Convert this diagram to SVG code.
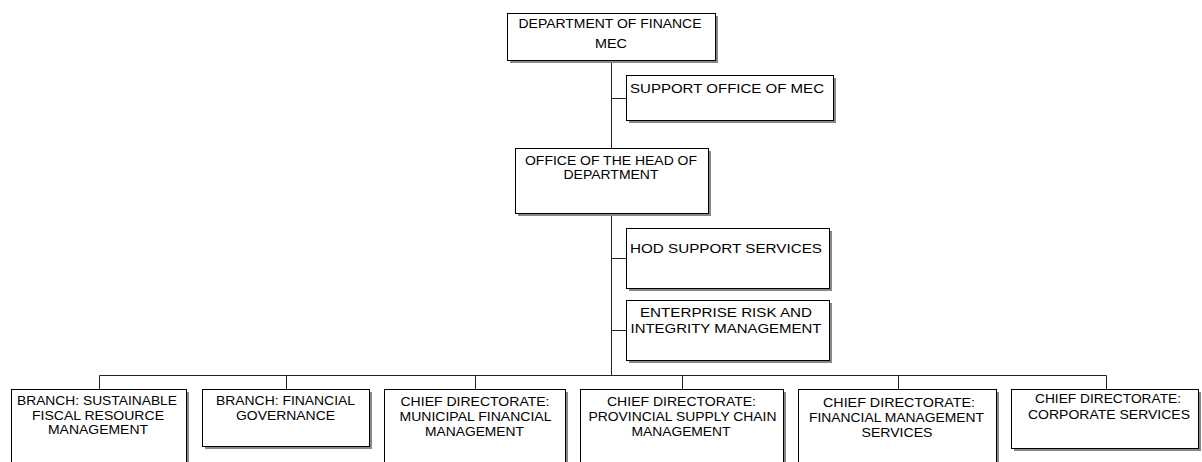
<svg xmlns="http://www.w3.org/2000/svg" width="1202" height="462" viewBox="0 0 1202 462">
<style>
.box{fill:#fff;stroke:#000;stroke-width:1}
.sh{fill:#888}
.c{stroke:#222;stroke-width:1;fill:none}
text{font-family:"Liberation Sans",Arial,sans-serif;font-size:13px;fill:#000;text-anchor:middle}
</style>
<rect width="1202" height="462" fill="#fff"/>
<g id="connectors">
<path class="c" d="M611.5 61V375.5M611.5 98.5H626.5M611.5 258.5H626.5M611.5 330.5H626.5M99.5 375.5H1106.5M99.5 375.5V389.5M286.5 375.5V389.5M475.5 375.5V389.5M682.5 375.5V389.5M898.5 375.5V389.5M1106.5 375.5V389.5"/>
</g>
<g id="n-mec">
<rect class="sh" x="510" y="16" width="208" height="47"/>
<rect class="box" x="507.5" y="13.5" width="208" height="47"/>
<text x="610" y="28" textLength="183" lengthAdjust="spacingAndGlyphs">DEPARTMENT OF FINANCE</text>
<text x="611" y="48" textLength="32" lengthAdjust="spacingAndGlyphs">MEC</text>
</g>
<g id="n-support">
<rect class="sh" x="629" y="78" width="207" height="45"/>
<rect class="box" x="626.5" y="75.5" width="207" height="45"/>
<text x="727" y="93" textLength="194" lengthAdjust="spacingAndGlyphs">SUPPORT OFFICE OF MEC</text>
</g>
<g id="n-hod-office">
<rect class="sh" x="518" y="151" width="193" height="65"/>
<rect class="box" x="515.5" y="148.5" width="193" height="65"/>
<text x="611" y="164.5" textLength="172" lengthAdjust="spacingAndGlyphs">OFFICE OF THE HEAD OF</text>
<text x="611" y="179" textLength="95" lengthAdjust="spacingAndGlyphs">DEPARTMENT</text>
</g>
<g id="n-hod-support">
<rect class="sh" x="629" y="231" width="203" height="60"/>
<rect class="box" x="626.5" y="228.5" width="203" height="60"/>
<text x="726" y="252.5" textLength="192" lengthAdjust="spacingAndGlyphs">HOD SUPPORT SERVICES</text>
</g>
<g id="n-risk">
<rect class="sh" x="629" y="303" width="203" height="60"/>
<rect class="box" x="626.5" y="300.5" width="203" height="60"/>
<text x="726" y="316.5" textLength="172" lengthAdjust="spacingAndGlyphs">ENTERPRISE RISK AND</text>
<text x="726" y="332.5" textLength="191" lengthAdjust="spacingAndGlyphs">INTEGRITY MANAGEMENT</text>
</g>
<g id="n-sfrm">
<rect class="sh" x="14" y="392" width="175" height="80"/>
<rect class="box" x="11.5" y="389.5" width="175" height="80"/>
<text x="97" y="405" textLength="160" lengthAdjust="spacingAndGlyphs">BRANCH: SUSTAINABLE</text>
<text x="98" y="419.5" textLength="132" lengthAdjust="spacingAndGlyphs">FISCAL RESOURCE</text>
<text x="98" y="434" textLength="100" lengthAdjust="spacingAndGlyphs">MANAGEMENT</text>
</g>
<g id="n-fg">
<rect class="sh" x="205" y="392" width="167" height="57"/>
<rect class="box" x="202.5" y="389.5" width="167" height="57"/>
<text x="285.5" y="405" textLength="139" lengthAdjust="spacingAndGlyphs">BRANCH: FINANCIAL</text>
<text x="285.5" y="419.5" textLength="99" lengthAdjust="spacingAndGlyphs">GOVERNANCE</text>
</g>
<g id="n-mfm">
<rect class="sh" x="387" y="392" width="181" height="80"/>
<rect class="box" x="384.5" y="389.5" width="181" height="80"/>
<text x="475" y="406" textLength="149" lengthAdjust="spacingAndGlyphs">CHIEF DIRECTORATE:</text>
<text x="475.5" y="421" textLength="152" lengthAdjust="spacingAndGlyphs">MUNICIPAL FINANCIAL</text>
<text x="474.5" y="436" textLength="99" lengthAdjust="spacingAndGlyphs">MANAGEMENT</text>
</g>
<g id="n-pscm">
<rect class="sh" x="583" y="392" width="203" height="80"/>
<rect class="box" x="580.5" y="389.5" width="203" height="80"/>
<text x="681.5" y="406" textLength="149" lengthAdjust="spacingAndGlyphs">CHIEF DIRECTORATE:</text>
<text x="682.5" y="421" textLength="188" lengthAdjust="spacingAndGlyphs">PROVINCIAL SUPPLY CHAIN</text>
<text x="681" y="436" textLength="99" lengthAdjust="spacingAndGlyphs">MANAGEMENT</text>
</g>
<g id="n-fms">
<rect class="sh" x="801" y="392" width="198" height="80"/>
<rect class="box" x="798.5" y="389.5" width="198" height="80"/>
<text x="899" y="406.5" textLength="152" lengthAdjust="spacingAndGlyphs">CHIEF DIRECTORATE:</text>
<text x="896.5" y="421.5" textLength="175" lengthAdjust="spacingAndGlyphs">FINANCIAL MANAGEMENT</text>
<text x="897" y="436.5" textLength="71" lengthAdjust="spacingAndGlyphs">SERVICES</text>
</g>
<g id="n-corp">
<rect class="sh" x="1014" y="392" width="187" height="59"/>
<rect class="box" x="1011.5" y="389.5" width="187" height="59"/>
<text x="1108" y="403" textLength="146" lengthAdjust="spacingAndGlyphs">CHIEF DIRECTORATE:</text>
<text x="1109" y="418.5" textLength="162" lengthAdjust="spacingAndGlyphs">CORPORATE SERVICES</text>
</g>
</svg>
